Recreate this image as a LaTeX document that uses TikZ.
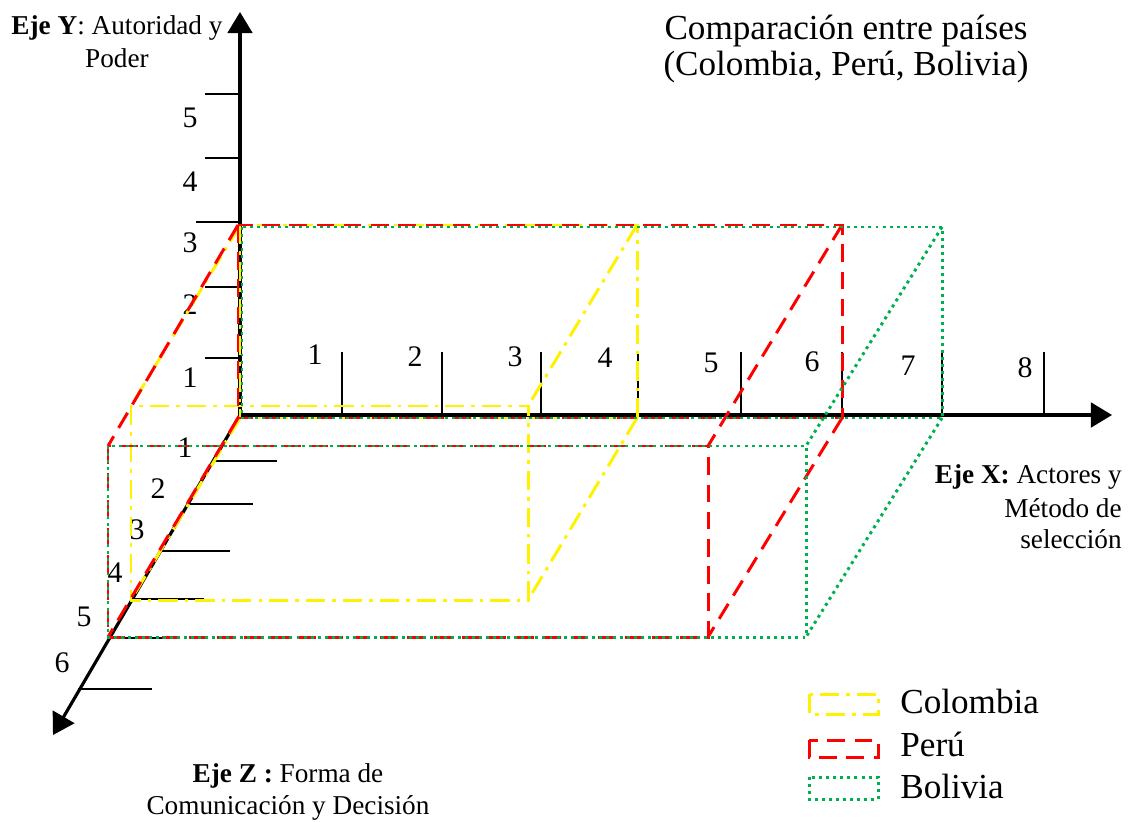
\documentclass[tikz,border=0pt]{standalone}
\usepackage{fontspec}
\setmainfont{Liberation Serif}
\usetikzlibrary{arrows.meta}
\definecolor{bolgreen}{RGB}{0,176,80}

\begin{document}
\begin{tikzpicture}[x=0.02cm,y=-0.02cm,
    axis/.style={line width=1.8pt,-{Triangle[length=12pt,width=14pt]}},
    tick/.style={line width=1.4pt},
    num/.style={font=\fontsize{17}{19}\selectfont,inner sep=0pt},
    axlab/.style={font=\fontsize{15.5}{19}\selectfont,inner sep=0pt,anchor=base},
    big/.style={font=\fontsize{20}{24}\selectfont,inner sep=0pt,anchor=base},
    colombia/.style={yellow,line width=1.7pt,dash pattern=on 11pt off 4pt on 2pt off 4pt},
    peru/.style={red,line width=1.7pt,dash pattern=on 10pt off 5.5pt},
    bolivia/.style={bolgreen,line width=1.7pt,dash pattern=on 1.7pt off 2.3pt}]
      \useasboundingbox (0,0) rectangle (1135,821);
      \coordinate (O) at (240,415);
      \coordinate (ytip) at (240,12);
      \coordinate (xtip) at (1112,415);
      \coordinate (ztip) at (53,735);
      \draw[axis] (O) -- (ytip);
      \draw[axis] (O) -- (xtip);
      \draw[axis] (O) -- (ztip);
      \foreach \x/\lx/\ly [count=\i] in {342/315/355,442/415/357,541/515/357,638/605/358,
          741/711/363,842/812/362,942/908/366,1044/1025/368}
        {\draw[tick] (\x,352) -- (\x,415);
         \node[num] (xn\i) at (\lx,\ly) {\i};}
      \foreach \y/\a/\ly [count=\i] in {358/205/378,287/205/305,222/196/243,158/205/182,94/205/118}
        {\draw[tick] (\a,\y) -- (240,\y);
         \node[num] (yn\i) at (190,\ly) {\i};}
      \foreach \a/\b/\y/\lx/\ly [count=\i] in {213/277/461/185/448,188/253/504/158/489,161/230/551/137/530,
          133/204/599/115/573,108/180/638/84/617,78/152/689/62/663}
        {\draw[tick] (\a,\y) -- (\b,\y);
         \node[num] (zn\i) at (\lx,\ly) {\i};}
      \draw[colombia] (240,225) rectangle (637,418);
      \draw[colombia] (131,406) rectangle (528,600);
      \draw[colombia] (240,225) -- (131,406) (637,225) -- (528,406)
        (637,418) -- (528,600) (240,418) -- (131,600);
      \draw[peru] (238,225) rectangle (842,418);
      \draw[peru] (108,446) rectangle (708,637);
      \draw[peru] (238,225) -- (108,446) (842,225) -- (708,446)
        (842,418) -- (708,637) (238,418) -- (108,637);
      \draw[bolivia] (242,227) rectangle (942,418);
      \draw[bolivia] (108,446) rectangle (806,637);
      \draw[bolivia] (942,227) -- (806,446) (942,418) -- (806,637);
      \node[big] (tit1) at (846,40) {Comparación entre países};
      \node[big] (tit2) at (846,76) {(Colombia, Perú, Bolivia)};
      \node[axlab] (ylab1) at (117,35) {\textbf{Eje Y}: Autoridad y};
      \node[axlab] (ylab2) at (117,68) {Poder};
      \node[axlab,anchor=base east] (xlab1) at (1122,483) {\textbf{Eje X:} Actores y};
      \node[axlab,anchor=base east] (xlab2) at (1122,517) {Método de};
      \node[axlab,anchor=base east] (xlab3) at (1122,548) {selección};
      \node[axlab] (zlab1) at (288,782) {\textbf{Eje Z :} Forma de};
      \node[axlab] (zlab2) at (288,814) {Comunicación y Decisión};
      \draw[colombia] (809,694) rectangle (878,714);
      \draw[peru] (809,740) rectangle (878,757);
      \draw[bolivia] (809,777) rectangle (878,799);
      \node[big,anchor=base west] (lcol) at (900,713) {Colombia};
      \node[big,anchor=base west] (lper) at (900,756) {Perú};
      \node[big,anchor=base west] (lbol) at (900,798) {Bolivia};
\end{tikzpicture}
\end{document}
